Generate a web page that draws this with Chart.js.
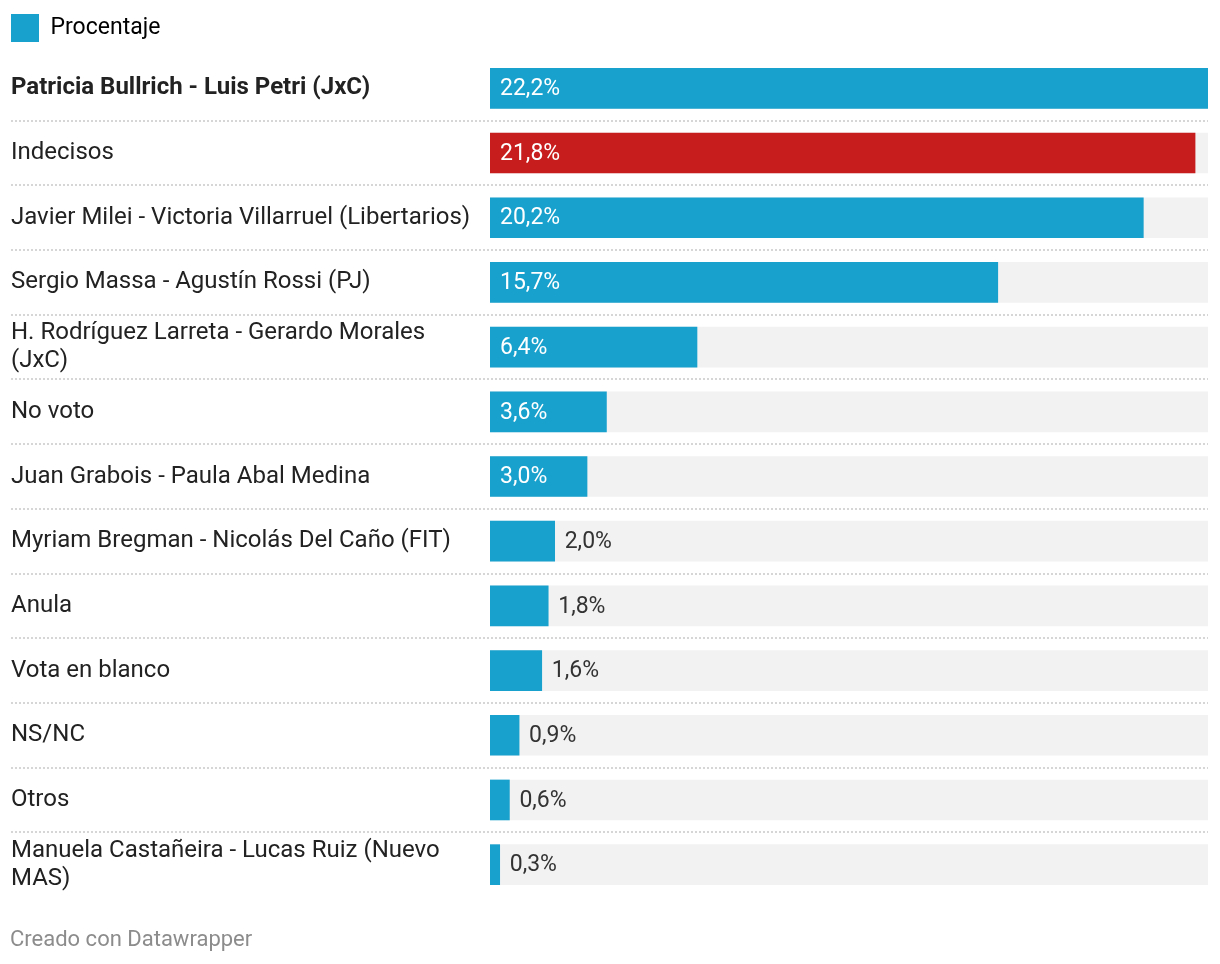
<!DOCTYPE html>
<html>
<head>
<meta charset="utf-8">
<script src="https://cdn.jsdelivr.net/npm/chart.js@4"></script>
<style>
  body { margin: 0; background: #fff; font-family: Roboto, sans-serif; }
  #wrap { position: relative; width: 1220px; height: 964px; }
  #footer { position: absolute; left: 10px; top: 926px; font-size: 22px; color: #8c8c8c; }
</style>
</head>
<body>
<div id="wrap">
  <canvas id="chart" width="1220" height="964"></canvas>
  <div id="footer">Creado con Datawrapper</div>
</div>
<script>
// datos
const categories = [
  "Patricia Bullrich - Luis Petri (JxC)",
  "Indecisos",
  "Javier Milei - Victoria Villarruel (Libertarios)",
  "Sergio Massa - Agustín Rossi (PJ)",
  ["H. Rodríguez Larreta - Gerardo Morales", "(JxC)"],
  "No voto",
  "Juan Grabois - Paula Abal Medina",
  "Myriam Bregman - Nicolás Del Caño (FIT)",
  "Anula",
  "Vota en blanco",
  "NS/NC",
  "Otros",
  ["Manuela Castañeira - Lucas Ruiz (Nuevo", "MAS)"]
];
const porcentaje = [22.2, 21.8, 20.2, 15.7, 6.4, 3.6, 3.0, 2.0, 1.8, 1.6, 0.9, 0.6, 0.3];
const seriesName = "Procentaje";
const highlighted = "Indecisos";

const BLUE = "#18a1cd";
const RED = "#c71e1d";
const maxVal = Math.max(...porcentaje);

function fmt(v) {
  return v.toFixed(1).replace(".", ",") + "%";
}

// separadores punteados y etiquetas de valores
const rowsPlugin = {
  id: "rows",
  afterDatasetsDraw(chart) {
    const ctx = chart.ctx;
    const meta = chart.getDatasetMeta(0);
    const area = chart.chartArea;
    ctx.save();
    ctx.strokeStyle = "#d6d6d6";
    ctx.lineWidth = 2;
    ctx.setLineDash([2, 2]);
    for (let i = 0; i < meta.data.length - 1; i++) {
      const y = Math.round((meta.data[i].y + meta.data[i + 1].y) / 2);
      ctx.beginPath();
      ctx.moveTo(11, y);
      ctx.lineTo(area.right, y);
      ctx.stroke();
    }
    ctx.setLineDash([]);
    ctx.font = "23px Roboto";
    ctx.textBaseline = "middle";
    meta.data.forEach((bar, i) => {
      const txt = fmt(porcentaje[i]);
      const w = ctx.measureText(txt).width;
      const barW = bar.x - bar.base;
      if (w + 20 < barW) {
        ctx.fillStyle = "#ffffff";
        ctx.fillText(txt, bar.base + 10, bar.y + 1);
      } else {
        ctx.fillStyle = "#333333";
        ctx.fillText(txt, bar.x + 10, bar.y + 1);
      }
    });
    ctx.restore();
  }
};

new Chart(document.getElementById("chart"), {
  type: "bar",
  data: {
    labels: categories,
    datasets: [
      {
        label: seriesName,
        data: porcentaje,
        backgroundColor: categories.map(c => c === highlighted ? RED : BLUE),
        borderWidth: 0,
        barThickness: 40,
        grouped: false
      },
      {
        label: "fondo",
        data: porcentaje.map(() => maxVal),
        backgroundColor: "#f2f2f2",
        borderWidth: 0,
        barThickness: 40,
        grouped: false
      }
    ]
  },
  options: {
    indexAxis: "y",
    responsive: false,
    animation: false,
    layout: { padding: { top: 14, left: 11, right: 12, bottom: 67 } },
    scales: {
      x: {
        position: "top",
        min: 0,
        max: maxVal,
        grid: { display: false },
        border: { display: false },
        ticks: { display: false },
        afterFit: s => { s.height = 4; }
      },
      y: {
        grid: { display: false },
        border: { display: false },
        afterFit: s => { s.width = 479; },
        ticks: {
          autoSkip: false,
          crossAlign: "far",
          color: "#222222",
          font: c => ({ family: "Roboto", size: 24, lineHeight: "28px", weight: c.index === 0 ? "bold" : "normal" })
        }
      }
    },
    plugins: {
      tooltip: { enabled: false },
      legend: {
        align: "start",
        labels: {
          boxWidth: 28,
          boxHeight: 28,
          padding: 0,
          color: "#333333",
          font: { family: "Roboto", size: 23 },
          generateLabels: chart => [{
            text: seriesName, fillStyle: BLUE, strokeStyle: BLUE, lineWidth: 0, datasetIndex: 0, hidden: false
          }]
        }
      }
    }
  },
  plugins: [rowsPlugin]
});
</script>
</body>
</html>
